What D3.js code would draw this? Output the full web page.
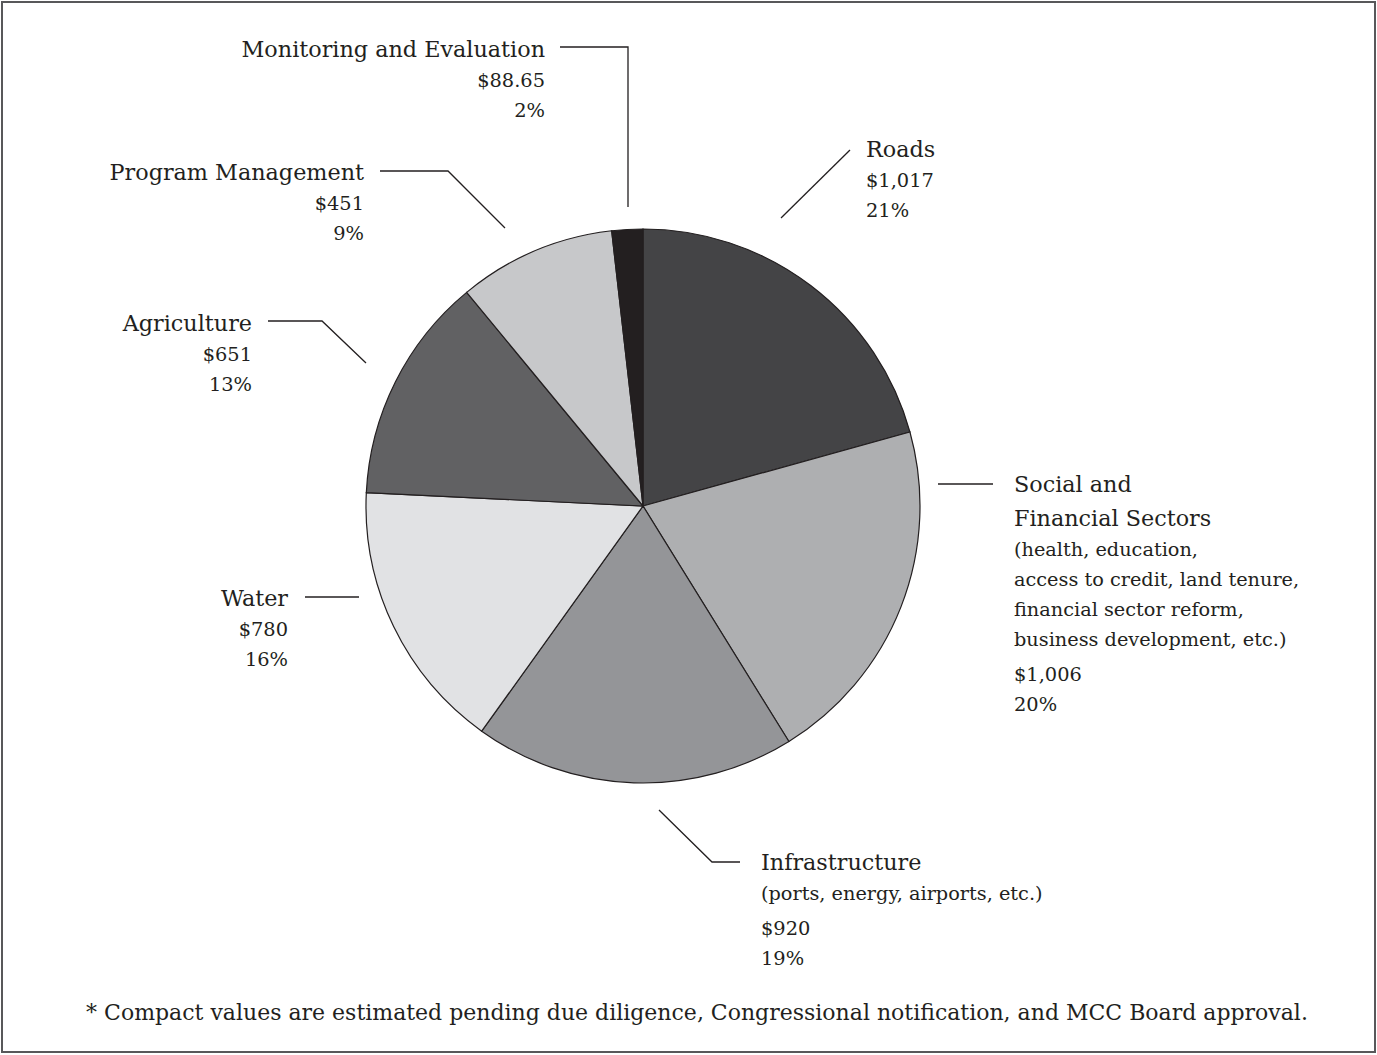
<!DOCTYPE html>
<html>
<head>
<meta charset="utf-8">
<script src="https://cdn.jsdelivr.net/npm/d3@7"></script>
<style>
  body { margin: 0; background: #fff; }
  svg text { font-family: "DejaVu Serif", "Liberation Serif", serif; fill: #231f20; }
</style>
</head>
<body>
<svg width="1377" height="1055"></svg>
<script>
// data
var categories = ["Roads", "Social and Financial Sectors", "Infrastructure", "Water",
                  "Agriculture", "Program Management", "Monitoring and Evaluation"];
var amounts = [1017, 1006, 920, 780, 651, 451, 88.65];
var fills = ["#444446", "#aeafb1", "#949598", "#e1e2e4", "#616163", "#c7c8ca", "#231f20"];
var titleLines = [
  ["Roads"],
  ["Social and", "Financial Sectors"],
  ["Infrastructure"],
  ["Water"],
  ["Agriculture"],
  ["Program Management"],
  ["Monitoring and Evaluation"]
];
var noteLines = [
  [],
  ["(health, education,", "access to credit, land tenure,", "financial sector reform,", "business development, etc.)"],
  ["(ports, energy, airports, etc.)"],
  [], [], [], []
];
var footnote = "* Compact values are estimated pending due diligence, Congressional notification, and MCC Board approval.";

// layout of labels (position of first baseline, anchor) and leader lines
var labelPos = [
  {x: 866, y: 157, anchor: "start"},
  {x: 1014, y: 492, anchor: "start"},
  {x: 761, y: 870, anchor: "start"},
  {x: 288, y: 606, anchor: "end"},
  {x: 252, y: 331, anchor: "end"},
  {x: 364, y: 180, anchor: "end"},
  {x: 545, y: 57, anchor: "end"}
];
var leaders = [
  [[781, 218], [850, 150]],
  [[938, 484], [993, 484]],
  [[659, 810], [712, 862], [740, 862]],
  [[359, 597], [305, 597]],
  [[366, 363], [322, 321], [268, 321]],
  [[505, 228], [448, 171], [380, 171]],
  [[628, 207], [628, 47], [560, 47]]
];

var svg = d3.select("svg");

// frame
svg.append("rect")
  .attr("x", 2).attr("y", 2)
  .attr("width", 1373).attr("height", 1050)
  .attr("fill", "none")
  .attr("stroke", "#58585a")
  .attr("stroke-width", 2);

var cx = 643, cy = 506, radius = 277;
var total = d3.sum(amounts);

var pie = d3.pie().sort(null).value(function(d) { return d; });
var arc = d3.arc().innerRadius(0).outerRadius(radius);

var g = svg.append("g").attr("transform", "translate(" + cx + "," + cy + ")");
g.selectAll("path")
  .data(pie(amounts))
  .enter()
  .append("path")
  .attr("d", arc)
  .attr("fill", function(d, i) { return fills[i]; })
  .attr("stroke", "#231f20")
  .attr("stroke-width", 1.2);

// leader lines
var line = d3.line();
svg.selectAll("path.leader")
  .data(leaders)
  .enter()
  .append("path")
  .attr("class", "leader")
  .attr("d", line)
  .attr("fill", "none")
  .attr("stroke", "#231f20")
  .attr("stroke-width", 1.3);

var fmtMoney = function(v) { return v % 1 ? "$" + d3.format(",.2f")(v) : "$" + d3.format(",")(v); };
var fmtPct = d3.format(".0%");

// labels
categories.forEach(function(c, i) {
  var p = labelPos[i];
  var t = svg.append("text").attr("text-anchor", p.anchor);
  var y = p.y;
  titleLines[i].forEach(function(s, k) {
    t.append("tspan").attr("x", p.x).attr("y", y).style("font-size", "22.3px").text(s);
    y += 34;
  });
  y -= 4;
  noteLines[i].forEach(function(s) {
    t.append("tspan").attr("x", p.x).attr("y", y).style("font-size", "19.3px").text(s);
    y += 30;
  });
  if (noteLines[i].length) y += 5;
  t.append("tspan").attr("x", p.x).attr("y", y).style("font-size", "19.4px").text(fmtMoney(amounts[i]));
  y += 30;
  t.append("tspan").attr("x", p.x).attr("y", y).style("font-size", "19.4px").text(fmtPct(amounts[i] / total));
});

svg.append("text")
  .attr("x", 697).attr("y", 1020)
  .attr("text-anchor", "middle")
  .style("font-size", "22px")
  .text(footnote);
</script>
</body>
</html>
